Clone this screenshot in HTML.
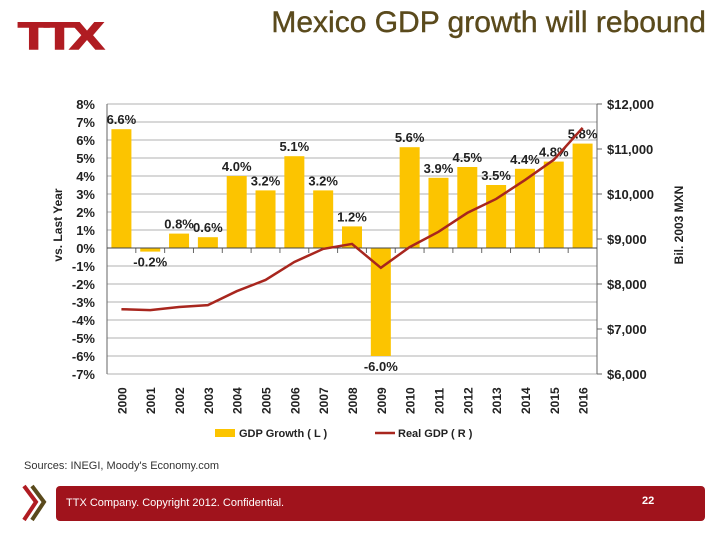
<!DOCTYPE html>
<html><head><meta charset="utf-8"><style>
body{margin:0;width:720px;height:540px;background:#fff;font-family:"Liberation Sans",sans-serif;position:relative;overflow:hidden}
</style></head><body>
<div style="position:absolute;left:18px;top:16px;font:bold 38px 'Liberation Sans',sans-serif;color:#b01c22;letter-spacing:-4px;transform:scaleX(1.35);transform-origin:left;-webkit-text-stroke:1.5px #b01c22">TTX</div>
<div style="position:absolute;right:14px;top:6px;font-size:30px;color:#5a4a1c;-webkit-text-stroke:0.4px #5a4a1c">Mexico GDP growth will rebound</div>
<svg id="chart" width="720" height="460" style="position:absolute;left:0;top:0" font-family="Liberation Sans, sans-serif"></svg>
<div style="position:absolute;left:24px;top:460px;font-size:11px;color:#333">Sources: INEGI, Moody's Economy.com</div>
<svg width="30" height="40" style="position:absolute;left:22px;top:484px"><polyline points="2,2 14,18 2,36" fill="none" stroke="#b01c22" stroke-width="4"/><polyline points="10,2 22,18 10,36" fill="none" stroke="#5a4a1c" stroke-width="4"/></svg>
<div style="position:absolute;left:56px;top:486px;width:649px;height:35px;background:#a0131c;border-radius:4px"></div>
<div style="position:absolute;left:66px;top:497px;font-size:11px;color:#fff">TTX Company. Copyright 2012. Confidential.</div>
<div style="position:absolute;left:642px;top:495px;font-size:11px;font-weight:bold;color:#fff">22</div>
<script>
const years=["2000","2001","2002","2003","2004","2005","2006","2007","2008","2009","2010","2011","2012","2013","2014","2015","2016"];
const growth=[6.6,-0.2,0.8,0.6,4.0,3.2,5.1,3.2,1.2,-6.0,5.6,3.9,4.5,3.5,4.4,4.8,5.8];
const realGdp=[7440,7420,7490,7530,7840,8090,8490,8780,8890,8360,8820,9160,9580,9890,10310,10760,11470];
const leftTicks=[8,7,6,5,4,3,2,1,0,-1,-2,-3,-4,-5,-6,-7];
const rightTicks=[12000,11000,10000,9000,8000,7000,6000];
const svg=document.getElementById('chart');const NS='http://www.w3.org/2000/svg';
const X0=107,X1=597,Y0=104,Y1=374;
const yL=v=>Y0+(8-v)*(Y1-Y0)/15;
const yR=v=>Y0+(12000-v)*(Y1-Y0)/6000;
const bw=(X1-X0)/years.length;
const xC=i=>X0+bw*(i+0.5);
function mk(t,a,txt){const e=document.createElementNS(NS,t);for(const k in a)e.setAttribute(k,a[k]);if(txt!=null)e.textContent=txt;svg.appendChild(e);return e;}
leftTicks.forEach(v=>{const y=yL(v);
 const g=mk('line',{x1:X0,x2:X1,y1:y,y2:y,stroke:'#999','stroke-width':0.8});
 
 const t=mk('text',{x:95,y:y+5,'text-anchor':'end','font-size':13,'font-weight':'bold',fill:'#222'},v+'%');
 });
rightTicks.forEach(v=>{const y=yR(v);
 mk('line',{x1:X1,x2:X1+5,y1:y,y2:y,stroke:'#666'});
 const t=mk('text',{x:607,y:y+5,'font-size':13,'font-weight':'bold',fill:'#222'},'$'+v.toLocaleString('en-US'));
 });
mk('line',{x1:X0,x2:X0,y1:Y0,y2:Y1,stroke:'#666'});
mk('line',{x1:X1,x2:X1,y1:Y0,y2:Y1,stroke:'#666'});
growth.forEach((v,i)=>{const y0=yL(0),y=yL(v);
 const r=mk('rect',{x:xC(i)-10,y:Math.min(y0,y),width:20,height:Math.abs(y-y0),fill:'#fcc400'});
 
 const t=mk('text',{x:xC(i),y:v>=0?y-5:y+15,'text-anchor':'middle','font-size':13,'font-weight':'bold',fill:'#222'},v.toFixed(1)+'%');
 
 const yl=mk('text',{transform:`translate(${xC(i)+5},414) rotate(-90)`,'font-size':12,'font-weight':'bold',fill:'#222'},years[i]);
 });
years.forEach((_,i)=>mk('line',{x1:X0+bw*i,x2:X0+bw*i,y1:yL(0),y2:yL(0)+5,stroke:'#666'}));
mk('line',{x1:X0,x2:X1,y1:yL(0),y2:yL(0),stroke:'#444'});
const ln=mk('polyline',{points:realGdp.map((v,i)=>xC(i)+','+yR(v)).join(' '),fill:'none',stroke:'#a8261e','stroke-width':2.5});

const lt=mk('text',{transform:'translate(62,225) rotate(-90)','text-anchor':'middle','font-size':12,'font-weight':'bold',fill:'#222'},'vs. Last Year');

const rt=mk('text',{transform:'translate(683,225) rotate(-90)','text-anchor':'middle','font-size':12,'font-weight':'bold',fill:'#222'},'Bil. 2003 MXN');

const l1=mk('rect',{x:215,y:429,width:20,height:8,fill:'#fcc400'});
const l2=mk('text',{x:239,y:437,'font-size':11,'font-weight':'bold',fill:'#222'},'GDP Growth  ( L )');
const l3=mk('line',{x1:375,x2:395,y1:433,y2:433,stroke:'#a8261e','stroke-width':2.5});
const l4=mk('text',{x:398,y:437,'font-size':11,'font-weight':'bold',fill:'#222'},'Real GDP  ( R )');
</script>
</body></html>
